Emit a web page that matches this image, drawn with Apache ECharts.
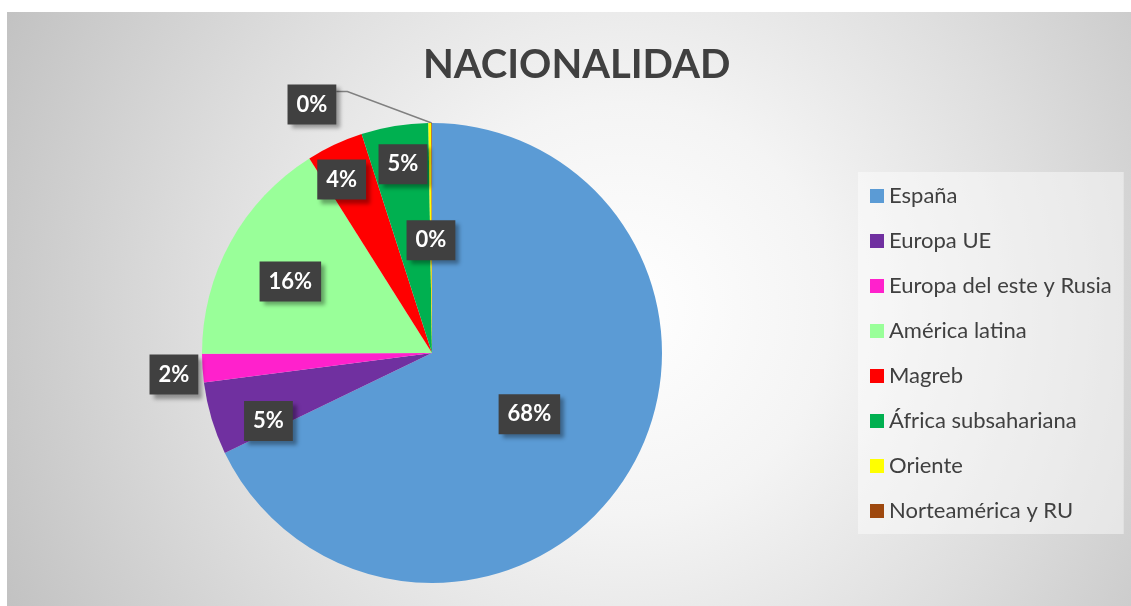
<!DOCTYPE html>
<html>
<head>
<meta charset="utf-8">
<script src="https://cdn.jsdelivr.net/npm/echarts@6/dist/echarts.min.js"></script>
<style>
  html, body { margin: 0; padding: 0; background: #fff; }
  #chart {
    position: absolute; left: 7px; top: 12px; width: 1124px; height: 594px;
    background: radial-gradient(circle farthest-corner at 55% 50%, #ffffff 0%, #f4f4f4 30%, #dedede 62%, #c2c2c2 100%);
  }
</style>
</head>
<body>
<div id="chart"></div>
<script>
// datos (porcentaje de cada nacionalidad)
const categorias = ['España', 'Europa UE', 'Europa del este y Rusia', 'América latina', 'Magreb', 'África subsahariana', 'Oriente', 'Norteamérica y RU']
const valores = [67.85, 5.1, 2.0, 16.1, 4.0, 4.7, 0.2, 0.05]
const colores = ['#5B9BD5', '#7030A0', '#FF21CC', '#99FF99', '#FF0000', '#00B050', '#FFFF00', '#9E480E']

// colocación de las etiquetas: [fracción del radio, desplazamiento en grados]
const etiquetaPos = [[0.50, 0], [0.77, -6], [1.126, -1], [0.69, -2], [0.85, -2.5], [0.83, 0.6], [0.49, 0], [1.2, -25.7]]

const cx = 425
const cy = 341
const R = 230
const total = valores.reduce((a, b) => a + b, 0)
const medios = []
let acc = 0
valores.forEach(v => {
  medios.push((acc + v / 2) / total * 360)
  acc += v
})

function polar (ang, r) {
  const a = ang * Math.PI / 180
  return [cx + r * Math.sin(a), cy - r * Math.cos(a)]
}

const chart = echarts.init(document.getElementById('chart'))
const option = {
  backgroundColor: 'transparent',
  animation: false,
  title: {
    text: 'NACIONALIDAD',
    left: 411,
    top: 28,
    textStyle: { fontFamily: 'Lato', fontWeight: 'bold', fontSize: 40, color: '#404040' }
  },
  legend: {
    orient: 'vertical',
    left: 851,
    top: 160,
    padding: [13, 12, 12, 12],
    backgroundColor: 'rgba(255,255,255,0.45)',
    icon: 'rect',
    itemWidth: 14,
    itemHeight: 14,
    itemGap: 23,
    textStyle: { fontFamily: 'Lato', fontSize: 22, color: '#404040' },
    data: categorias
  },
  series: [
    {
      type: 'pie',
      center: [cx, cy],
      radius: R,
      startAngle: 90,
      clockwise: true,
      avoidLabelOverlap: false,
      itemStyle: { borderWidth: 0 },
      label: {
        show: true,
        position: 'outside',
        formatter: p => Math.round(p.percent) + '%',
        fontFamily: 'Lato',
        fontWeight: 'bold',
        fontSize: 22,
        lineHeight: 24,
        color: '#ffffff',
        backgroundColor: '#404040',
        padding: [8, 9],
        shadowColor: 'rgba(0,0,0,0.35)',
        shadowBlur: 4,
        shadowOffsetX: 4,
        shadowOffsetY: 4
      },
      labelLine: { show: false },
      labelLayout: function (params) {
        const i = params.dataIndex
        const pos = etiquetaPos[i]
        const p = polar(medios[i] + pos[1], pos[0] * R)
        const res = { x: p[0], y: p[1], align: 'center', verticalAlign: 'middle' }
        if (i === 7) {
          const w = params.labelRect.width
          const borde = polar(medios[i], R)
          res.labelLinePoints = [borde, [p[0] + w / 2 + 11, p[1] - 13], [p[0] + w / 2, p[1] - 13]]
        }
        return res
      },
      data: categorias.map((c, i) => {
        const d = { name: c, value: valores[i], itemStyle: { color: colores[i] } }
        if (i === 7) {
          d.labelLine = { show: true, lineStyle: { color: '#808080', width: 1.5 } }
        }
        return d
      })
    }
  ]
}
chart.setOption(option)
</script>
</body>
</html>
